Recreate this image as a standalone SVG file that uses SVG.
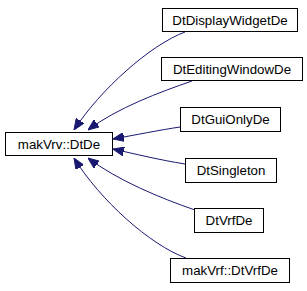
<svg xmlns="http://www.w3.org/2000/svg" width="307" height="291" viewBox="0 0 307 291">
<style>
.n rect{fill:#fff;stroke:#000;stroke-width:1}
.n text{font-family:"Liberation Sans",Arial,sans-serif;font-size:13.3px;text-anchor:middle;fill:#000}
.e path{fill:none;stroke:#191970;stroke-width:1}
</style>
<defs>
<marker id="a" viewBox="0 0 11 9" refX="11" refY="4.5" markerWidth="11" markerHeight="9" markerUnits="userSpaceOnUse" orient="auto">
<path d="M0,0 L11,4.5 L0,9 Z" fill="#191970" stroke="#191970"/>
</marker>
</defs>
<rect width="307" height="291" fill="#fff"/>
<g class="e">
<path d="M185,32 C150,45 100,90 74,130" marker-end="url(#a)"/>
<path d="M192,81 C160,92 117,108 88,130" marker-end="url(#a)"/>
<path d="M180,127 C160,130 135,135 113,139" marker-end="url(#a)"/>
<path d="M185,164 C160,160 135,154 113,149" marker-end="url(#a)"/>
<path d="M195,210 C160,198 117,180 88,158" marker-end="url(#a)"/>
<path d="M186,258 C150,245 100,200 74,158" marker-end="url(#a)"/>
</g>
<g id="node_DtDe" class="n"><rect x="5.5" y="132.5" width="107" height="23"/><text x="59" y="149">makVrv::DtDe</text></g>
<g id="node_DtDisplayWidgetDe" class="n"><rect x="162.5" y="8.5" width="135" height="23"/><text x="230" y="25">DtDisplayWidgetDe</text></g>
<g id="node_DtEditingWindowDe" class="n"><rect x="161.5" y="57.5" width="141" height="23"/><text x="232" y="74">DtEditingWindowDe</text></g>
<g id="node_DtGuiOnlyDe" class="n"><rect x="180.5" y="107.5" width="100" height="24"/><text x="230.5" y="124">DtGuiOnlyDe</text></g>
<g id="node_DtSingleton" class="n"><rect x="185.5" y="158.5" width="91" height="24"/><text x="231" y="175">DtSingleton</text></g>
<g id="node_DtVrfDe" class="n"><rect x="194.5" y="208.5" width="69" height="24"/><text x="229" y="225">DtVrfDe</text></g>
<g id="node_makVrfDtVrfDe" class="n"><rect x="170.5" y="258.5" width="119" height="24"/><text x="230" y="275">makVrf::DtVrfDe</text></g>
</svg>
